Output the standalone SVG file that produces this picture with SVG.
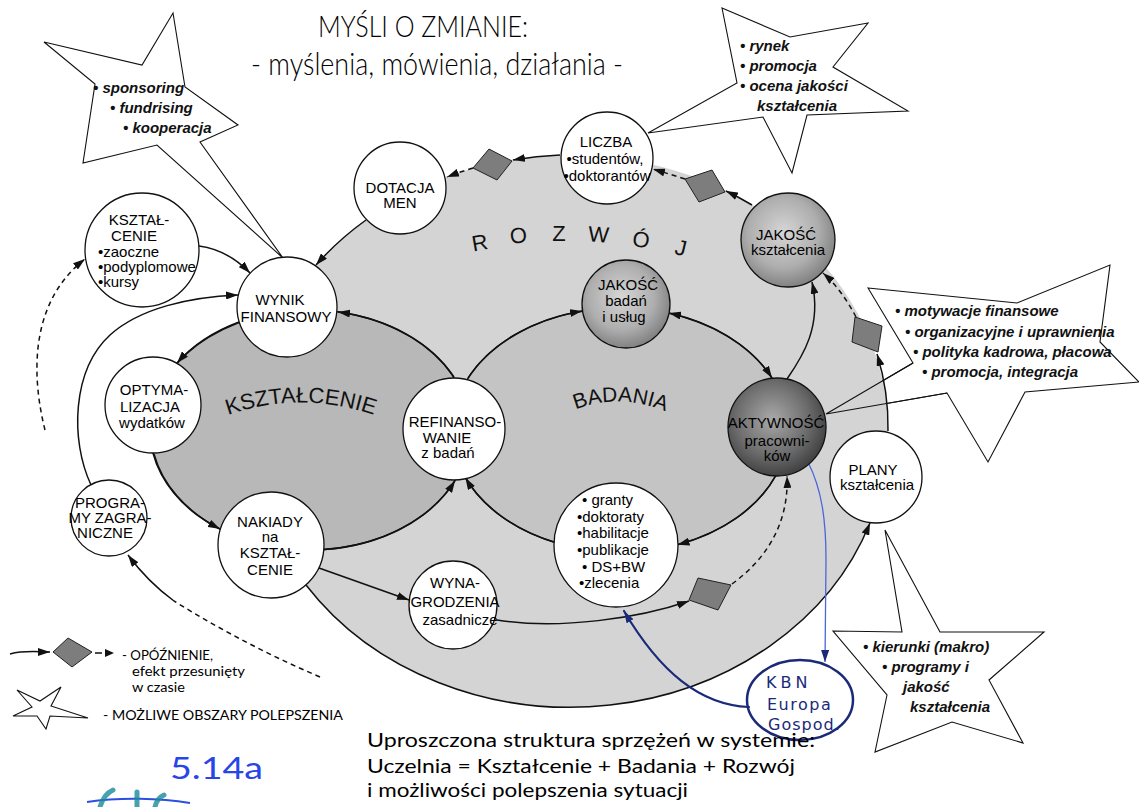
<svg xmlns="http://www.w3.org/2000/svg" width="1139" height="807" viewBox="0 0 1139 807">
<defs>
<style>
.nd circle{fill:#fff;stroke:#111;stroke-width:1.3}
.sp circle{fill:url(#sph);stroke:#111;stroke-width:1.3}
.spd circle{fill:url(#sphd);stroke:#111;stroke-width:1.3}
.nt{font-family:"Liberation Sans",Arial,sans-serif;font-size:15px;fill:#000;text-anchor:middle}
.nl{text-anchor:start}
.st{font-family:"Liberation Sans",Arial,sans-serif;font-size:15px;font-weight:bold;font-style:italic;fill:#111}
.starshape{fill:#fff;stroke:#111;stroke-width:1.1;stroke-linejoin:miter}
.ln{fill:none;stroke:#111;stroke-width:1.5}
.arr{marker-end:url(#ah)}
.dash{stroke-dasharray:5 4}
.dia{fill:#7d7d7d;stroke:#222;stroke-width:1}
.hand{font-family:Lato,"Open Sans",sans-serif;font-weight:400;fill:#000}
.thin{font-weight:300}
.big{font-family:"Liberation Sans",Arial,sans-serif;fill:#111}
.ink{fill:none;stroke:#1b2a78;stroke-linecap:round}
</style>
<marker id="ah" viewBox="0 0 12 8" refX="12" refY="4" markerWidth="12" markerHeight="8" markerUnits="userSpaceOnUse" orient="auto-start-reverse"><path d="M0,0 L12,4 L0,8 Z" fill="#111"/></marker>
<marker id="ahb" viewBox="0 0 12 8" refX="12" refY="4" markerWidth="12" markerHeight="8" markerUnits="userSpaceOnUse" orient="auto"><path d="M0,0 L12,4 L0,8 Z" fill="#1b2a78"/></marker>
<radialGradient id="sph" cx="45%" cy="42%" r="62%">
<stop offset="0" stop-color="#d6d6d6"/><stop offset="0.6" stop-color="#aeaeae"/><stop offset="1" stop-color="#7a7a7a"/>
</radialGradient>
<radialGradient id="sphd" cx="45%" cy="42%" r="62%">
<stop offset="0" stop-color="#a9a9a9"/><stop offset="0.6" stop-color="#6c6c6c"/><stop offset="1" stop-color="#3a3a3a"/>
</radialGradient>
<path id="kpath" d="M 228,415 Q 300,390 374,415"/>
<path id="bpath" d="M 574,410 Q 619,392 667,412"/>
</defs>

<rect width="1139" height="807" fill="#fff"/>

<!-- callout star behind the ring: AKTYWNOŚĆ improvements -->
<polygon id="star-aktywnosc-fill" class="starshape" points="868,288 1017,303 1110,265 1100,342 1139,382 1025,392 988,462 947,393 826,414 913,363"/>

<!-- areas -->
<g id="areas">
<ellipse id="area-rozwoj" cx="570" cy="431" rx="318" ry="276" fill="#d4d4d4"/>
<ellipse id="area-ksztalcenie" cx="310" cy="430" rx="160" ry="120" fill="#b8b8b8" stroke="#111" stroke-width="1.5"/>
<ellipse id="area-badania" cx="620" cy="430" rx="168" ry="122" fill="#c4c4c4" stroke="#111" stroke-width="1.5"/>
</g>

<!-- area labels -->
<g id="area-labels" class="big" font-size="22" text-anchor="middle">
<text x="481" y="250" transform="rotate(-10 481 250)">R</text>
<text x="519" y="243" transform="rotate(-5 519 243)">O</text>
<text x="559" y="241">Z</text>
<text x="598" y="242" transform="rotate(4 598 242)">W</text>
<text x="640" y="247" transform="rotate(9 640 247)">Ó</text>
<text x="679" y="255" transform="rotate(14 679 255)">J</text>
<text font-size="22"><textPath href="#kpath" startOffset="50%">KSZTAŁCENIE</textPath></text>
<text font-size="21"><textPath href="#bpath" startOffset="50%">BADANIA</textPath></text>
</g>

<!-- connectors -->
<g id="connectors">
<!-- outline of the development ring, ending in PLANY -->
<path class="ln arr" d="M 306,585 A 318 276 0 0 0 870,523"/>
<path class="ln arr" d="M 366,220 A 318 276 0 0 0 316,265"/>
<path class="ln arr" d="M 560,155 A 318 276 0 0 0 513,160"/>
<path class="ln arr dash" d="M 473,168 A 318 276 0 0 0 447,177"/>
<path class="ln arr" d="M 752,205 A 318 276 0 0 0 726,191"/>
<path class="ln arr dash" d="M 685,179 L 653,169"/>
<path class="ln arr" d="M 888,431 A 318 276 0 0 0 877,354"/>
<path class="ln arr dash" d="M 856,317 Q 842,290 823,273"/>
<path class="ln arr" d="M 787,379 C 803,356 822,326 812,282"/>
<!-- education loop -->
<path class="ln arr" d="M 239,322 A 160 120 0 0 0 177,363"/>
<path class="ln arr" d="M 154,454 A 160 120 0 0 0 220,529"/>
<path class="ln arr" d="M 324,549.5 A 160 120 0 0 0 455,480.7"/>
<path class="ln arr" d="M 454,377 A 160 120 0 0 0 338,312"/>
<!-- research loop -->
<path class="ln arr" d="M 468,378 A 168 122 0 0 1 582,311"/>
<path class="ln arr" style="marker-start:url(#ah)" d="M 669,313 A 168 122 0 0 1 772,378"/>
<path class="ln arr" d="M 775,477 A 168 122 0 0 1 677.5,544.7"/>
<path class="ln arr" d="M 554,542 A 168 122 0 0 1 465.4,477.7"/>
<!-- outside links -->
<path class="ln arr" d="M 199,246 Q 228,250 250,273"/>
<path class="ln arr" d="M 91,485 C 70,440 72,370 110,335 C 140,308 190,297 238,295"/>
<path class="ln arr dash" d="M 45,430 C 30,370 32,300 85,259"/>
<path class="ln arr" d="M 319,568 L 409,600"/>
<path class="ln dash" d="M 320,677 Q 245,645 174,601"/>
<path class="ln arr" d="M 174,601 Q 148,582 128,555"/>
<path class="ln arr" d="M 497,620 C 560,630 640,618 689,601"/>
<path class="ln arr dash" d="M 732,584 C 765,560 789,525 787,476"/>
<!-- ink annotations -->
<path fill="none" stroke="#4a66d9" stroke-width="1.3" marker-end="url(#ahb)" d="M 808,462 C 822,490 826,520 826,560 L 825,662"/>
<path class="ink" stroke-width="2.2" marker-end="url(#ahb)" d="M 749,707 C 700,705 660,672 624,611"/>
</g>

<!-- improvement stars -->
<g id="star-finanse">
<polygon class="starshape" points="44,42 142,65 173,13 185,87 238,125 200,142 283,258 157,145 83,163 95,84"/>
<text class="st"><tspan x="93" y="93">• sponsoring</tspan><tspan x="110" y="113">• fundrising</tspan><tspan x="123" y="133">• kooperacja</tspan></text>
</g>
<g id="star-liczba">
<polygon class="starshape" points="722,8 790,37 868,23 833,67 908,111 807,115 792,173 763,117 648,133 737,83"/>
<text class="st"><tspan x="740" y="51">• rynek</tspan><tspan x="740" y="71">• promocja</tspan><tspan x="740" y="91">• ocena jakości</tspan><tspan x="757" y="111">kształcenia</tspan></text>
</g>
<g id="star-aktywnosc">
<polyline fill="none" stroke="#111" stroke-width="1.1" points="913,363 826,414 947,393"/>
<text class="st"><tspan x="895" y="316">• motywacje finansowe</tspan><tspan x="905" y="337">• organizacyjne i uprawnienia</tspan><tspan x="913" y="357">• polityka kadrowa, płacowa</tspan><tspan x="922" y="377">• promocja, integracja</tspan></text>
</g>
<g id="star-plany">
<polygon class="starshape" points="885,530 940,632 1044,632 989,680 1023,743 952,722 875,752 887,695 833,631 902,632"/>
<text class="st"><tspan x="863" y="652">• kierunki (makro)</tspan><tspan x="882" y="672">• programy i</tspan><tspan x="903" y="692">jakość</tspan><tspan x="910" y="712">kształcenia</tspan></text>
</g>

<!-- nodes -->
<g id="node-dotacja" class="nd"><circle cx="400" cy="188" r="46"/>
<text class="nt" font-size="14.5"><tspan x="400" y="193">DOTACJA</tspan><tspan x="400" y="208">MEN</tspan></text></g>
<g id="node-liczba" class="nd"><circle cx="607" cy="158" r="46"/>
<text class="nt" font-size="14.5"><tspan x="606" y="147">LICZBA</tspan><tspan x="605" y="164">•studentów,</tspan><tspan x="607" y="181">•doktorantów</tspan></text></g>
<g id="node-jakosc-ksztalcenia" class="sp"><circle cx="788" cy="240" r="47"/>
<text class="nt" font-size="14.5"><tspan x="786" y="240">JAKOŚĆ</tspan><tspan x="788" y="255">kształcenia</tspan></text></g>
<g id="node-wynik" class="nd"><circle cx="287" cy="307" r="50"/>
<text class="nt" font-size="15.5"><tspan x="280" y="305">WYNIK</tspan><tspan x="286" y="322">FINANSOWY</tspan></text></g>
<g id="node-ksztalcenie-dodatkowe" class="nd"><circle cx="142" cy="250" r="57"/>
<text class="nt" font-size="17"><tspan x="139" y="225">KSZTAŁ-</tspan><tspan x="134" y="241">CENIE</tspan></text>
<text class="nt nl" font-size="14.5"><tspan x="98" y="257">•zaoczne</tspan><tspan x="98" y="272">•podyplomowe</tspan><tspan x="98" y="287">•kursy</tspan></text></g>
<g id="node-optymalizacja" class="nd"><circle cx="153" cy="405" r="48"/>
<text class="nt"><tspan x="154" y="395">OPTYMA-</tspan><tspan x="150" y="412">LIZACJA</tspan><tspan x="152" y="428">wydatków</tspan></text></g>
<g id="node-programy" class="nd"><circle cx="109" cy="518" r="38"/>
<text class="nt" font-size="13"><tspan x="110" y="508">PROGRA-</tspan><tspan x="110" y="523">MY ZAGRA-</tspan><tspan x="105" y="538">NICZNE</tspan></text></g>
<g id="node-nakiady" class="nd"><circle cx="271" cy="545" r="53"/>
<text class="nt"><tspan x="270" y="527">NAKIADY</tspan><tspan x="270" y="542">na</tspan><tspan x="270" y="558">KSZTAŁ-</tspan><tspan x="270" y="575">CENIE</tspan></text></g>
<g id="node-refinansowanie" class="nd"><circle cx="454" cy="429" r="51"/>
<text class="nt" font-size="14.5"><tspan x="455" y="427">REFINANSO-</tspan><tspan x="447" y="443">WANIE</tspan><tspan x="448" y="458">z badań</tspan></text></g>
<g id="node-jakosc-badan" class="sp"><circle cx="626" cy="304" r="44"/>
<text class="nt" font-size="14.5"><tspan x="628" y="290">JAKOŚĆ</tspan><tspan x="626" y="306">badań</tspan><tspan x="624" y="322">i usług</tspan></text></g>
<g id="node-aktywnosc" class="spd"><circle cx="777" cy="427" r="49"/>
<text class="nt" font-size="14.5"><tspan x="776" y="428">AKTYWNOŚĆ</tspan><tspan x="777" y="446">pracowni-</tspan><tspan x="777" y="461">ków</tspan></text></g>
<g id="node-granty" class="nd"><circle cx="616" cy="545" r="62"/>
<text class="nt nl" font-size="16"><tspan x="582" y="505">• granty</tspan><tspan x="577" y="522">•doktoraty</tspan><tspan x="577" y="538">•habilitacje</tspan><tspan x="577" y="555">•publikacje</tspan><tspan x="582" y="572">• DS+BW</tspan><tspan x="579" y="588">•zlecenia</tspan></text></g>
<g id="node-plany" class="nd"><circle cx="876" cy="477" r="46"/>
<text class="nt"><tspan x="873" y="475">PLANY</tspan><tspan x="877" y="490">kształcenia</tspan></text></g>
<g id="node-wynagrodzenia" class="nd"><circle cx="453" cy="605" r="44"/>
<text class="nt" font-size="14"><tspan x="455" y="588">WYNA-</tspan><tspan x="455" y="607">GRODZENIA</tspan><tspan x="460" y="625">zasadnicze</tspan></text></g>
<g id="node-kbn">
<ellipse cx="800" cy="700" rx="53" ry="40" class="ink" stroke-width="2.5"/>
<text font-family="'DejaVu Sans',sans-serif" font-size="16" fill="#1b2a78"><tspan x="766" y="688" letter-spacing="4">KBN</tspan><tspan x="767" y="710" letter-spacing="1.5">Europa</tspan><tspan x="768" y="730" letter-spacing="1">Gospod.</tspan></text>
</g>

<!-- delay markers -->
<g id="delays">
<polygon class="dia" points="473,168 489,149 512,161 497,180"/>
<polygon class="dia" points="685,179 712,170 725,192 699,202"/>
<polygon class="dia" points="855,317 882,326 878,352 852,342"/>
<polygon class="dia" points="698,578 731,585 718,610 689,600"/>
</g>

<!-- title -->
<g id="title" class="hand thin">
<text x="318" y="37" font-size="29" textLength="210" lengthAdjust="spacingAndGlyphs">MYŚLI O ZMIANIE:</text>
<text x="251" y="75" font-size="32" textLength="372" lengthAdjust="spacingAndGlyphs">- myślenia, mówienia, działania -</text>
</g>

<!-- legend -->
<g id="legend">
<path class="ln" d="M 10,654 C 25,650 38,652 50,652" marker-end="url(#ah)"/>
<polygon class="dia" points="53,652 68,638 92,652 72,667"/>
<path class="ln" d="M 95,653 H 102"/>
<path d="M 105,649 L 114,653 L 105,657 Z" fill="#111"/>
<g class="hand" font-size="13.5">
<text x="122" y="660" textLength="91" lengthAdjust="spacingAndGlyphs">- OPÓŹNIENIE,</text>
<text x="132" y="676" textLength="113" lengthAdjust="spacingAndGlyphs">efekt przesunięty</text>
<text x="132" y="692" textLength="53" lengthAdjust="spacingAndGlyphs">w czasie</text>
<text x="103" y="720" textLength="240" lengthAdjust="spacingAndGlyphs">- MOŻLIWE OBSZARY POLEPSZENIA</text>
</g>
<polygon class="starshape" points="17,690 40,701 61,687 51,706 88,718 50,716 46,729 37,716 13,716 32,707"/>
</g>

<!-- caption -->
<g id="caption" class="hand" font-size="19.5">
<text x="367" y="747" textLength="448" lengthAdjust="spacingAndGlyphs">Uproszczona struktura sprzężeń w systemie:</text>
<text x="367" y="773" textLength="428" lengthAdjust="spacingAndGlyphs">Uczelnia = Kształcenie + Badania + Rozwój</text>
<text x="367" y="797" textLength="321" lengthAdjust="spacingAndGlyphs">i możliwości polepszenia sytuacji</text>
</g>

<!-- page mark -->
<g id="page-mark">
<text x="170" y="779" font-family="Lato,'Liberation Sans',sans-serif" font-size="30" fill="#2846e8" textLength="93" lengthAdjust="spacingAndGlyphs">5.14a</text>
<path d="M 87,802 C 120,797 160,798 190,803" fill="none" stroke="#2b4fe0" stroke-width="2"/>
<path d="M 100,807 Q 104,794 113,790 M 137,807 L 137,792 M 155,807 Q 157,798 164,795" fill="none" stroke="#1a8a9a" stroke-width="5" stroke-linecap="round" opacity="0.8"/>
</g>
</svg>
